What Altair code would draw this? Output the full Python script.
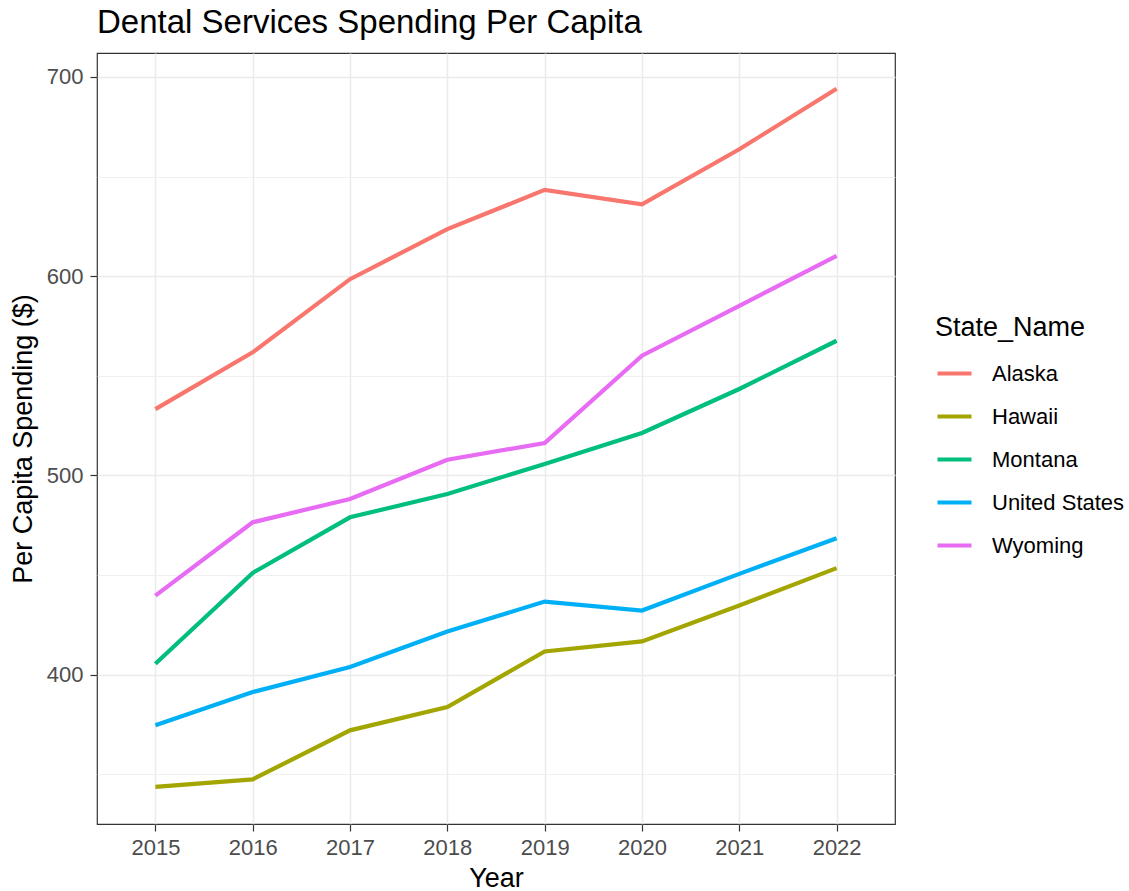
import altair as alt
import pandas as pd

years = [2015, 2016, 2017, 2018, 2019, 2020, 2021, 2022]
states = ["Alaska", "Hawaii", "Montana", "United States", "Wyoming"]
alaska = [533.3, 561.8, 598.5, 623.6, 643.3, 636.1, 663.7, 694.1]
hawaii = [343.7, 347.5, 372.1, 383.8, 411.7, 416.7, 434.7, 453.5]
montana = [405.5, 451.1, 479.0, 490.7, 505.8, 521.3, 543.4, 567.6]
united_states = [374.6, 391.3, 403.9, 421.7, 436.7, 432.2, 450.6, 468.5]
wyoming = [439.7, 476.5, 488.2, 507.9, 516.3, 560.1, 585.1, 610.2]
colors = ["#F8766D", "#A3A500", "#00BF7D", "#00B0F6", "#E76BF3"]
y_ticks = [350, 400, 450, 500, 550, 600, 650, 700]

series = [alaska, hawaii, montana, united_states, wyoming]
rows = []
for s, vals in zip(states, series):
    for yr, v in zip(years, vals):
        rows.append({"Year": yr, "State_Name": s, "Spending": v})
df = pd.DataFrame(rows)

FONT = "Liberation Sans"

chart = alt.Chart(df).mark_line(strokeWidth=4.2, strokeCap="butt").encode(
    x=alt.X("Year:Q",
            scale=alt.Scale(domain=[2014.4, 2022.6], nice=False, zero=False),
            axis=alt.Axis(values=years, format="d", title="Year", grid=True,
                          gridColor="#EBEBEB", gridWidth=1.5, domain=False,
                          tickColor="#333333", tickSize=7, tickWidth=1.2,
                          labelColor="#4D4D4D", labelFontSize=22, labelFont=FONT,
                          labelPadding=6, labelFlush=False,
                          titleFont=FONT, titleFontSize=27, titleFontWeight="normal",
                          titleColor="#000000", titlePadding=7)),
    y=alt.Y("Spending:Q",
            scale=alt.Scale(domain=[325.1, 712], nice=False, zero=False),
            axis=alt.Axis(values=y_ticks, title="Per Capita Spending ($)", grid=True,
                          gridColor="#EBEBEB",
                          gridWidth=alt.ExprRef("datum.value % 100 === 0 ? 1.5 : 0.75"),
                          labelExpr="datum.value % 100 === 0 ? datum.label : ''",
                          tickOpacity=alt.ExprRef("datum.value % 100 === 0 ? 1 : 0"),
                          domain=False, tickColor="#333333", tickSize=7, tickWidth=1.2,
                          labelColor="#4D4D4D", labelFontSize=22, labelFont=FONT,
                          labelPadding=7,
                          titleFont=FONT, titleFontSize=27, titleFontWeight="normal",
                          titleColor="#000000", titlePadding=9)),
    color=alt.Color("State_Name:N",
                    scale=alt.Scale(domain=states, range=colors),
                    legend=alt.Legend(title="State_Name", orient="none",
                                      legendX=838, legendY=262,
                                      symbolType="stroke", symbolStrokeWidth=4.2,
                                      symbolSize=1156, rowPadding=12,
                                      labelOffset=18, labelFontSize=22, labelFont=FONT,
                                      labelColor="#000000",
                                      titleFontSize=27, titleFont=FONT,
                                      titleFontWeight="normal", titleColor="#000000",
                                      titlePadding=12)),
).properties(
    width=798,
    height=771,
    title=alt.TitleParams("Dental Services Spending Per Capita", anchor="start",
                          font=FONT, fontSize=33, fontWeight="normal",
                          color="#000000", offset=13, frame="group"),
    autosize=alt.AutoSizeParams(type="none"),
    padding={"left": 97, "top": 53, "right": 234, "bottom": 67},
).configure(
    background="white",
    view=alt.ViewConfig(stroke="#333333", strokeWidth=1.2),
)

chart.save("out.html", embed_options={"renderer": "svg", "actions": False})
